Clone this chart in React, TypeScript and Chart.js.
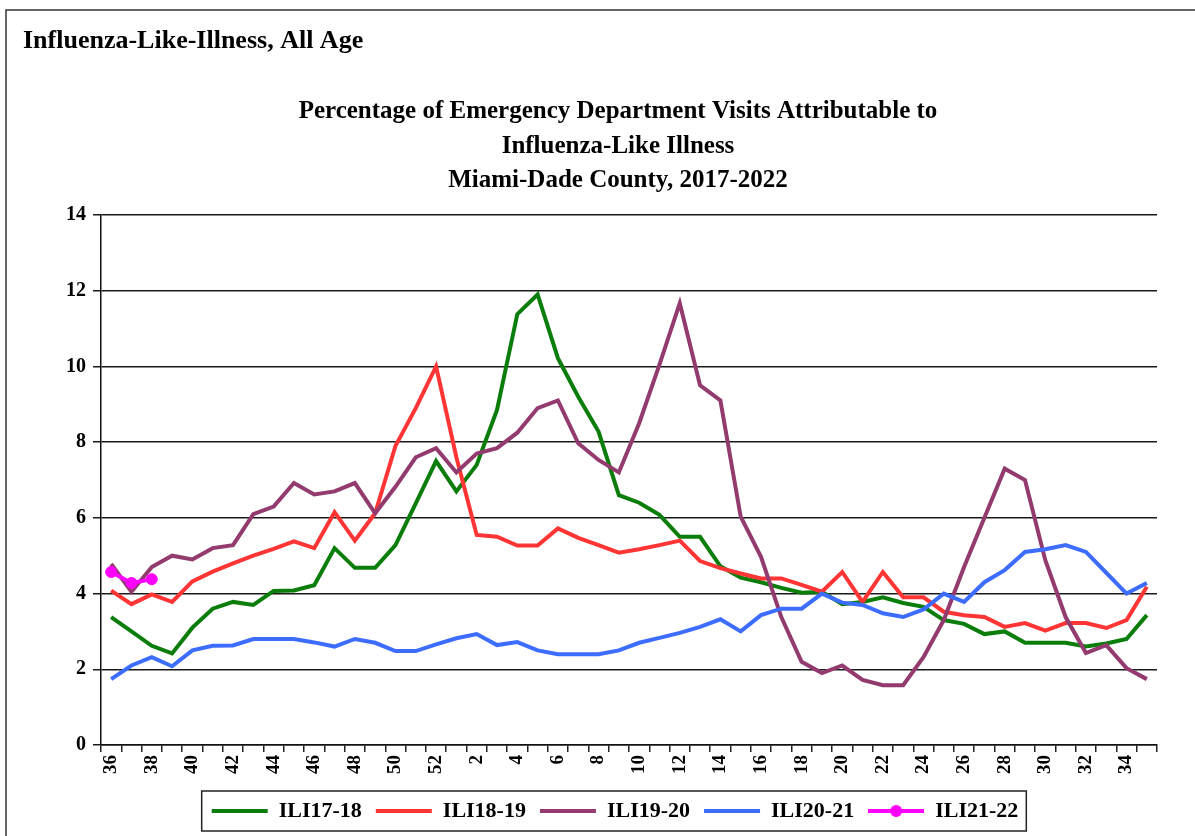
import React, { useEffect, useRef } from 'react';
import { Chart, registerables } from 'chart.js';

Chart.register(...registerables);

const WEEKS = [
  '36', '37', '38', '39', '40', '41', '42', '43', '44', '45', '46', '47', '48', '49', '50', '51', '52',
  '1', '2', '3', '4', '5', '6', '7', '8', '9', '10', '11', '12', '13', '14', '15', '16', '17', '18',
  '19', '20', '21', '22', '23', '24', '25', '26', '27', '28', '29', '30', '31', '32', '33', '34', '35',
];

const ILI17_18 = [
  3.38, 3.0, 2.62, 2.42, 3.1, 3.6, 3.78, 3.7, 4.07, 4.08, 4.22, 5.2, 4.68, 4.68, 5.28, 6.38, 7.5,
  6.7, 7.4, 8.85, 11.38, 11.9, 10.22, 9.2, 8.28, 6.6, 6.4, 6.08, 5.5, 5.5, 4.72, 4.42, 4.3, 4.15, 4.02,
  4.05, 3.72, 3.78, 3.9, 3.75, 3.65, 3.3, 3.2, 2.93, 3.0, 2.7, 2.7, 2.7, 2.6, 2.68, 2.8, 3.43,
];

const ILI18_19 = [
  4.08, 3.72, 3.98, 3.78, 4.32, 4.58, 4.8, 5.0, 5.18, 5.38, 5.2, 6.15, 5.4, 6.12, 7.9, 8.9, 10.0,
  7.6, 5.55, 5.5, 5.27, 5.27, 5.72, 5.47, 5.28, 5.08, 5.17, 5.28, 5.4, 4.86, 4.67, 4.53, 4.4, 4.4, 4.23,
  4.05, 4.57, 3.78, 4.57, 3.9, 3.9, 3.52, 3.43, 3.38, 3.12, 3.22, 3.02, 3.22, 3.22, 3.09, 3.3, 4.18,
];

const ILI19_20 = [
  4.78, 4.05, 4.7, 5.0, 4.9, 5.2, 5.28, 6.1, 6.3, 6.92, 6.62, 6.7, 6.92, 6.12, 6.82, 7.6, 7.84,
  7.2, 7.7, 7.84, 8.25, 8.9, 9.1, 7.97, 7.53, 7.2, 8.5, 10.05, 11.67, 9.5, 9.1, 6.03, 4.97, 3.38, 2.2,
  1.9, 2.1, 1.72, 1.58, 1.58, 2.32, 3.3, 4.7, 6.0, 7.3, 7.0, 4.88, 3.38, 2.43, 2.64, 2.03, 1.74,
];

const ILI20_21 = [
  1.74, 2.1, 2.32, 2.08, 2.5, 2.62, 2.63, 2.8, 2.8, 2.8, 2.71, 2.6, 2.8, 2.7, 2.48, 2.48, 2.66,
  2.82, 2.93, 2.64, 2.72, 2.5, 2.4, 2.4, 2.4, 2.5, 2.7, 2.83, 2.96, 3.12, 3.32, 3.0, 3.43, 3.6, 3.6,
  4.0, 3.76, 3.7, 3.48, 3.38, 3.58, 4.0, 3.78, 4.3, 4.62, 5.1, 5.17, 5.28, 5.1, 4.55, 4.0, 4.28,
];

const ILI21_22 = [4.57, 4.28, 4.38];

const SERIES_NAMES = ['ILI17-18', 'ILI18-19', 'ILI19-20', 'ILI20-21', 'ILI21-22'];
const SERIES_COLORS = ['#0a7d0a', '#ff3535', '#933a6e', '#3d6dff', '#ff00ff'];

const TOP_TITLE = 'Influenza-Like-Illness, All Age';
const MAIN_TITLE = [
  'Percentage of Emergency Department Visits Attributable to',
  'Influenza-Like Illness',
  'Miami-Dade County, 2017-2022',
];

const FONT = "'Liberation Serif', 'Times New Roman', serif";

export default function App() {
  const ref = useRef<HTMLCanvasElement>(null);

  useEffect(() => {
    document.body.style.margin = '0';
    document.body.style.overflow = 'hidden';
    const canvas = ref.current;
    if (!canvas) return;

    // legend marker for the series with points: a line with a dot
    const dotLine = document.createElement('canvas');
    dotLine.width = 56;
    dotLine.height = 14;
    const dctx = dotLine.getContext('2d');
    if (dctx) {
      dctx.strokeStyle = SERIES_COLORS[4];
      dctx.lineWidth = 4;
      dctx.beginPath();
      dctx.moveTo(0, 7);
      dctx.lineTo(56, 7);
      dctx.stroke();
      dctx.fillStyle = SERIES_COLORS[4];
      dctx.beginPath();
      dctx.arc(28, 7, 6, 0, Math.PI * 2);
      dctx.fill();
    }

    const decor = {
      id: 'decor',
      beforeDraw(chart: any) {
        const ctx = chart.ctx;
        ctx.save();
        ctx.fillStyle = '#fff';
        ctx.fillRect(0, 0, chart.width, chart.height);
        ctx.restore();
      },
      afterLayout(chart: any) {
        const lg = chart.legend;
        if (!lg) return;
        const cx = (lg.left + lg.right) / 2;
        const shift = 615 - cx;
        lg.left += shift;
        lg.right += shift;
      },
      afterDraw(chart: any) {
        const ctx = chart.ctx;
        ctx.save();
        // outer frame (top and left edges visible)
        ctx.strokeStyle = '#333';
        ctx.lineWidth = 1.5;
        ctx.beginPath();
        ctx.moveTo(6, chart.height);
        ctx.lineTo(6, 10);
        ctx.lineTo(chart.width, 10);
        ctx.stroke();

        ctx.fillStyle = '#000';
        ctx.textBaseline = 'alphabetic';
        ctx.textAlign = 'left';
        ctx.font = `bold 26px ${FONT}`;
        ctx.fillText(TOP_TITLE, 23, 48);

        ctx.textAlign = 'center';
        ctx.textBaseline = 'middle';
        ctx.font = `bold 25px ${FONT}`;
        MAIN_TITLE.forEach((line, i) => {
          ctx.fillText(line, 618, 112 + i * 34.5);
        });

        // legend frame
        const lg = chart.legend;
        if (lg && lg.legendHitBoxes && lg.legendHitBoxes.length) {
          let minX = Infinity, maxX = -Infinity, minY = Infinity, maxY = -Infinity;
          lg.legendHitBoxes.forEach((b: any) => {
            minX = Math.min(minX, b.left);
            maxX = Math.max(maxX, b.left + b.width);
            minY = Math.min(minY, b.top);
            maxY = Math.max(maxY, b.top + b.height);
          });
          ctx.strokeStyle = '#222';
          ctx.lineWidth = 1.5;
          ctx.strokeRect(minX - 10, minY - 9, maxX - minX + 18, maxY - minY + 18);
        }
        ctx.restore();
      },
    };

    const chart = new Chart(canvas, {
      type: 'line',
      data: {
        labels: WEEKS,
        datasets: [
          { label: SERIES_NAMES[0], data: ILI17_18, borderColor: SERIES_COLORS[0], backgroundColor: SERIES_COLORS[0], order: 5 },
          { label: SERIES_NAMES[1], data: ILI18_19, borderColor: SERIES_COLORS[1], backgroundColor: SERIES_COLORS[1], order: 4 },
          { label: SERIES_NAMES[2], data: ILI19_20, borderColor: SERIES_COLORS[2], backgroundColor: SERIES_COLORS[2], order: 3 },
          { label: SERIES_NAMES[3], data: ILI20_21, borderColor: SERIES_COLORS[3], backgroundColor: SERIES_COLORS[3], order: 2 },
          {
            label: SERIES_NAMES[4], data: ILI21_22, borderColor: SERIES_COLORS[4], backgroundColor: SERIES_COLORS[4],
            pointRadius: 5.5, pointBackgroundColor: SERIES_COLORS[4], pointBorderColor: SERIES_COLORS[4], order: 1,
          },
        ],
      },
      options: {
        responsive: false,
        maintainAspectRatio: false,
        animation: false,
        devicePixelRatio: 1,
        layout: { padding: { left: 41, right: 38, top: 215, bottom: 4 } },
        elements: {
          line: { borderWidth: 4, tension: 0 },
          point: { radius: 0, hoverRadius: 0 },
        },
        scales: {
          x: {
            offset: true,
            grid: {
              offset: true,
              drawOnChartArea: false,
              drawTicks: true,
              tickLength: 7,
              color: '#222',
              lineWidth: 1.5,
            },
            border: { display: true, color: '#111', width: 1.5 },
            ticks: {
              autoSkip: false,
              maxRotation: 90,
              minRotation: 90,
              padding: 3,
              color: '#000',
              font: { family: FONT, size: 19, weight: 'bold' },
              callback: (_v: any, i: number) => (i % 2 === 0 ? WEEKS[i] : ''),
            },
            afterFit: (scale: any) => { scale.height = 41; },
          },
          y: {
            min: 0,
            max: 14,
            grid: { color: '#1a1a1a', lineWidth: 1.5, tickLength: 8 },
            border: { display: true, color: '#111', width: 1.5 },
            ticks: {
              stepSize: 2,
              padding: 7,
              color: '#000',
              font: { family: FONT, size: 20, weight: 'bold' },
            },
            afterFit: (scale: any) => { scale.width = 60; },
          },
        },
        plugins: {
          title: { display: false },
          tooltip: { enabled: false },
          legend: {
            display: true,
            position: 'bottom',
            labels: {
              usePointStyle: true,
              pointStyleWidth: 56,
              padding: 14,
              color: '#000',
              font: { family: FONT, size: 22, weight: 'bold' },
              generateLabels: (ch: any) => {
                const items = Chart.defaults.plugins.legend.labels.generateLabels(ch);
                items.sort((a: any, b: any) => a.datasetIndex - b.datasetIndex);
                return items.map((it: any) => ({
                  ...it,
                  pointStyle: it.datasetIndex === 4 ? dotLine : 'line',
                  lineWidth: 4,
                }));
              },
            },
          },
        },
      },
      plugins: [decor],
    } as any);

    return () => chart.destroy();
  }, []);

  return (
    <div style={{ width: 1195, height: 836, position: 'relative', overflow: 'hidden' }}>
      <canvas ref={ref} width={1195} height={836} style={{ display: 'block', width: 1195, height: 836 }} />
    </div>
  );
}
